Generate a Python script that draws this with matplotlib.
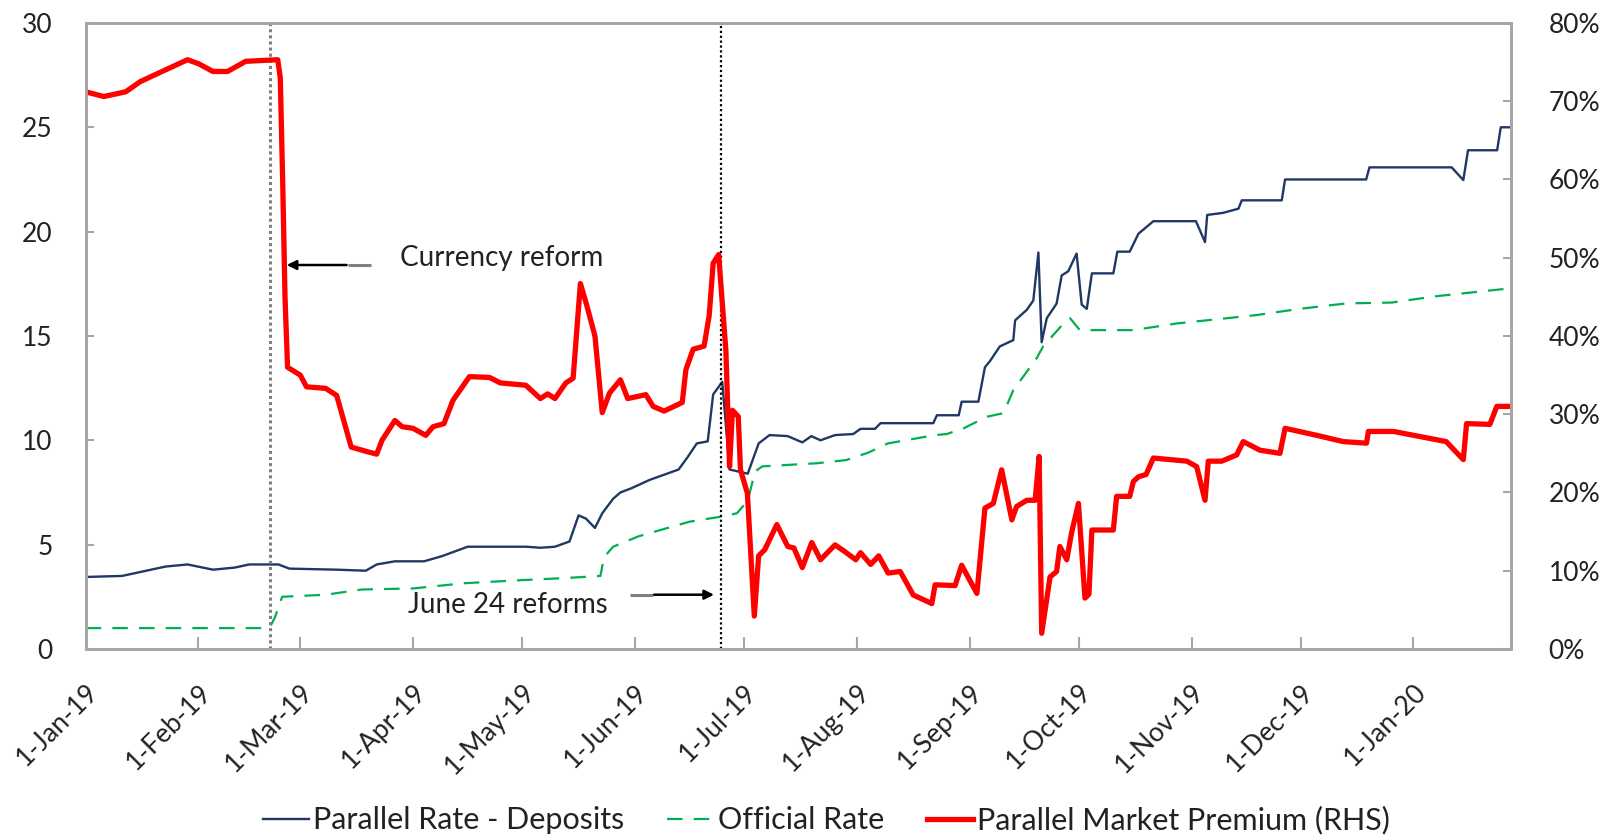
import pandas as pd
import matplotlib
matplotlib.use('Agg')
import matplotlib.pyplot as plt
import matplotlib.dates as mdates

plt.rcParams['font.family'] = ['Lato', 'DejaVu Sans']

# x values are days since 1-Jan-19
deposit_days = [0, 10, 22, 28, 35, 41, 45, 53, 56, 69, 77, 80, 85, 93, 98, 105, 121, 125, 129, 133,
                135.5, 137.5, 140, 142, 145, 147, 150, 155, 159, 163, 165.5, 168, 171, 172.5, 175,
                177, 182, 185, 188, 193, 197, 199.5, 202, 206, 211, 213, 217, 218.5, 233, 234,
                240, 240.8, 245.4, 247.2, 248.6, 251.3, 255, 255.5, 258.7, 260.5, 261.9, 262.8,
                264.2, 266.9, 268.3, 270.1, 272.4, 273.8, 275.2, 276.6, 282.5, 283.6, 287, 289.4,
                293.5, 305.2, 307.7, 308.3, 312.7, 316.9, 317.8, 328.8, 329.7, 352, 352.9, 375.5,
                378.7, 380, 388, 389, 391.5]
deposit_rate = [3.45, 3.5, 3.95, 4.05, 3.8, 3.9, 4.05, 4.05, 3.85, 3.8, 3.75, 4.05, 4.2, 4.2, 4.45, 4.9,
                4.9, 4.85, 4.9, 5.15, 6.4, 6.25, 5.8, 6.5, 7.2, 7.5, 7.7, 8.1, 8.35, 8.6, 9.2, 9.85,
                9.95, 12.2, 12.8, 8.6, 8.4, 9.85, 10.25, 10.2, 9.9, 10.2, 10.0, 10.25, 10.3, 10.55,
                10.55, 10.82, 10.82, 11.2, 11.2, 11.85, 11.85, 13.5, 13.8, 14.5, 14.8, 15.75, 16.25,
                16.7, 19.0, 14.7, 15.85, 16.55, 17.9, 18.1, 18.95, 16.5, 16.3, 18.0, 18.0, 19.04,
                19.04, 19.9, 20.5, 20.5, 19.5, 20.8, 20.9, 21.1, 21.5, 21.5, 22.5, 22.5, 23.08,
                23.08, 22.47, 23.9, 23.9, 25.0, 25.0]

official_days = [0, 50.5, 52, 54, 60, 66, 76, 90, 104, 120, 132, 141.5, 142.5, 145, 152, 160, 166,
                 175, 179, 182, 184, 186, 201, 209, 215, 220.5, 233.5, 236.7, 241.3, 247.7, 252.3,
                 255, 261.4, 263.2, 268.3, 270.6, 273.3, 288, 300, 321.8, 333.7, 346.5, 359, 371,
                 391.5]
official_rate = [1.0, 1.0, 1.5, 2.5, 2.55, 2.6, 2.85, 2.9, 3.15, 3.3, 3.4, 3.5, 4.4, 4.9, 5.4, 5.8,
                 6.1, 6.35, 6.5, 7.1, 8.5, 8.75, 8.9, 9.05, 9.4, 9.85, 10.25, 10.3, 10.57, 11.13,
                 11.3, 12.4, 13.93, 14.5, 15.5, 15.85, 15.28, 15.28, 15.6, 16.0, 16.3, 16.56, 16.6,
                 16.9, 17.28]

premium_days = [0, 5, 11, 15, 21, 28, 31, 35, 39, 44, 52.8, 53.5, 54.2, 54.8, 55.5, 59, 60.7, 66,
                69, 73, 77.5, 80, 81.5, 85, 87, 90, 93.5, 95.5, 98.5, 101, 105.5, 111, 114, 121,
                125, 127, 129, 132, 134, 136, 137.7, 140, 142, 144, 147, 149, 154, 156, 159, 164,
                165, 167, 170, 171.4, 172.5, 174, 176, 177, 177.8, 179.4, 180, 181.9, 183.8, 185,
                186.7, 190, 193, 194.7, 197, 199.6, 202, 206, 208.5, 211.7, 213, 215.8, 218, 220.6,
                223.9, 227.5, 232.6, 233.5, 239, 240.8, 245, 247.2, 249.5, 251.8, 254.6, 255.9,
                258.7, 261, 262.1, 262.8, 265.1, 266.9, 267.8, 269.7, 271, 272.9, 274.7, 275.8,
                276.6, 282.5, 283.4, 287, 288, 289.4, 291.5, 293.5, 302.7, 305.4, 307.7, 308.6,
                312.3, 316.4, 318.2, 322.8, 328.3, 329.7, 338.4, 345.7, 352.1, 352.6, 359.5, 374,
                378.7, 379.6, 386, 387.9, 391.5]
premium_pct = [71.2, 70.6, 71.2, 72.5, 73.8, 75.3, 74.8, 73.8, 73.8, 75.1, 75.3, 73.0, 59.0, 45.0,
               36.0, 35.0, 33.5, 33.3, 32.4, 25.8, 25.2, 24.9, 26.7, 29.2, 28.4, 28.2, 27.3, 28.4,
               28.8, 31.8, 34.8, 34.7, 34.0, 33.7, 32.0, 32.6, 32.0, 34.0, 34.6, 46.7, 44.0, 40.0,
               30.2, 32.7, 34.4, 32.0, 32.5, 31.0, 30.4, 31.5, 35.7, 38.3, 38.7, 42.6, 49.3, 50.4,
               38.1, 23.3, 30.5, 29.7, 22.9, 19.9, 4.2, 11.9, 12.7, 15.9, 13.1, 12.9, 10.4, 13.6,
               11.4, 13.3, 12.5, 11.4, 12.3, 10.8, 11.9, 9.7, 9.9, 6.9, 5.8, 8.2, 8.1, 10.7, 7.1,
               18.0, 18.6, 22.9, 16.5, 18.2, 19.0, 19.0, 24.6, 2.0, 9.2, 9.9, 13.1, 11.4, 14.8,
               18.6, 6.5, 7.0, 15.2, 15.2, 19.5, 19.5, 21.4, 22.0, 22.3, 24.4, 24.0, 23.3, 19.0,
               24.0, 24.0, 24.8, 26.5, 25.4, 25.0, 28.2, 27.3, 26.5, 26.3, 27.8, 27.8, 26.5, 24.2,
               28.8, 28.7, 31.0, 31.0]

event_days = [50.7, 174.7]
event_labels = ['Currency reform', 'June 24 reforms']

start = pd.Timestamp('2019-01-01')


def to_dates(days):
    return start + pd.to_timedelta(days, unit='D')


def day(d):
    return start + pd.Timedelta(days=d)


fig = plt.figure(figsize=(16.16, 8.35), dpi=100)
ax = fig.add_axes([0.053, 0.2228, 0.882, 0.7497])
ax2 = ax.twinx()

ax.plot(to_dates(deposit_days), deposit_rate, color='#1F3864', lw=1.7,
        label='Parallel Rate - Deposits')
ax.plot(to_dates(official_days), official_rate, color='#00B050', lw=1.6,
        dashes=(7, 5), label='Official Rate')
ax2.plot(to_dates(premium_days), premium_pct, color='#FF0000', lw=3.8,
         label='Parallel Market Premium (RHS)')

# event markers
ax.axvline(day(event_days[0]), color='#7F7F7F', lw=2.2, ls=(0, (1, 1)))
ax.axvline(day(event_days[1]), color='black', lw=1.6, ls=(0, (1, 1.2)))

# arrows: grey tail, black head
ax.plot([day(72), day(78.5)], [18.4, 18.4], color='#808080', lw=2.2, solid_capstyle='butt')
ax.annotate('', xy=(day(54.5), 18.4), xytext=(day(72.5), 18.4),
            arrowprops=dict(arrowstyle='-|>', color='black', lw=1.8, mutation_scale=14))
ax.text(day(86.5), 18.75, event_labels[0], fontsize=20, color='#222222', va='center')
ax.plot([day(149.5), day(156)], [2.6, 2.6], color='#808080', lw=2.2, solid_capstyle='butt')
ax.annotate('', xy=(day(173.5), 2.6), xytext=(day(155.5), 2.6),
            arrowprops=dict(arrowstyle='-|>', color='black', lw=1.8, mutation_scale=14))
ax.text(day(88.5), 2.1, event_labels[1], fontsize=20, color='#222222', va='center')

ax.set_xlim(start, day(391.8))
ax.set_ylim(0, 30)
ax2.set_ylim(0, 80)
ax.set_yticks(range(0, 31, 5))
ax2.set_yticks(range(0, 81, 10))
ax2.set_yticklabels([f'{v}%' for v in range(0, 81, 10)])

ax.xaxis.set_major_locator(mdates.MonthLocator(bymonthday=1))
ax.xaxis.set_major_formatter(mdates.DateFormatter('1-%b-%y'))

grey = '#A6A6A6'
for a in (ax, ax2):
    for s in a.spines.values():
        s.set_color(grey)
        s.set_linewidth(2)
ax.tick_params(axis='x', direction='in', length=9, width=1.5, color=grey, pad=22,
               labelsize=19, labelcolor='#222222')
ax.tick_params(axis='y', direction='in', length=6, width=1.5, color=grey, pad=24,
               labelsize=19, labelcolor='#222222')
ax2.tick_params(axis='y', direction='in', length=6, width=1.5, color=grey, pad=27,
                labelsize=19, labelcolor='#222222')
for lab in ax.get_xticklabels():
    lab.set_rotation(45)
    lab.set_horizontalalignment('right')
    lab.set_verticalalignment('top')
    lab.set_rotation_mode('anchor')

h1, l1 = ax.get_legend_handles_labels()
h2, l2 = ax2.get_legend_handles_labels()
fig.legend(h1 + h2, l1 + l2, loc='center', bbox_to_anchor=(0.5115, 0.018), ncol=3,
           frameon=False, fontsize=22, handlelength=1.5, handletextpad=0.15,
           columnspacing=1.4, labelcolor='#222222')

fig.savefig('out.png', dpi=100)
